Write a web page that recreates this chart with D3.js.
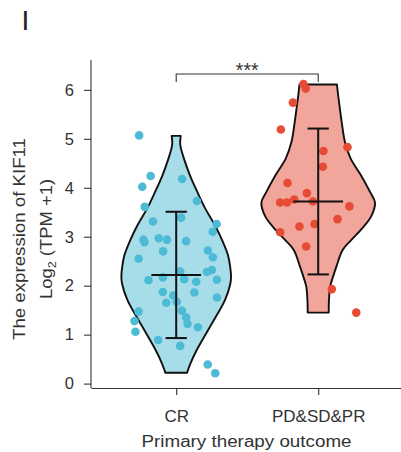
<!DOCTYPE html>
<html>
<head>
<meta charset="utf-8">
<script src="https://cdn.jsdelivr.net/npm/d3@7"></script>
<style>
  html, body { margin: 0; padding: 0; background: #fff; }
  svg { display: block; }
  text { font-family: "Liberation Sans", Arial, Helvetica, sans-serif; fill: #333; }
</style>
</head>
<body>
<svg id="chart" width="401" height="452"></svg>
<script>
// Groups on the x axis
const categories = ["CR", "PD&SD&PR"];

// KIF11 expression, log2(TPM + 1), per sample, with horizontal jitter (category units)
const crValues = [5.07, 4.24, 4.02, 4.18, 3.61, 3.73, 3.31, 3.39, 3.26, 3.10,
                  2.94, 2.89, 2.97, 2.94, 2.91, 2.70, 2.72, 2.58, 2.55, 2.11,
                  2.17, 2.29, 2.13, 2.08, 2.28, 2.32, 2.12, 1.87, 1.80, 1.65,
                  1.67, 1.86, 1.76, 1.47, 1.28, 1.06, 1.49, 1.35, 1.22, 1.15,
                  0.89, 0.77, 0.39, 0.21];
const crJitter = [-0.261, -0.180, -0.239, 0.042, -0.222, 0.146, -0.164, 0.035, 0.285, 0.257,
                  -0.230, -0.223, -0.123, -0.065, 0.070, -0.092, 0.223, 0.258, -0.264, -0.195,
                  -0.094, 0.028, 0.056, 0.141, 0.216, 0.251, 0.287, -0.094, -0.021, -0.070,
                  0.004, 0.128, 0.287, -0.265, -0.294, -0.287, 0.040, 0.070, 0.080, 0.153,
                  -0.127, 0.028, 0.222, 0.275];

const pdValues = [6.12, 6.03, 5.74, 5.19, 4.83, 4.75, 4.43, 4.10, 3.89, 3.70,
                  3.70, 3.76, 3.72, 3.62, 3.36, 3.21, 3.26, 3.09, 2.80, 1.93, 1.45];
const pdJitter = [-0.104, -0.088, -0.178, -0.263, 0.206, 0.037, 0.033, -0.216, -0.080, -0.268,
                  -0.220, -0.169, -0.037, 0.220, 0.136, -0.132, -0.026, -0.268, -0.085, 0.096, 0.268];

// Violin outlines: expression level and relative density (trimmed at the data range)
const crLevels  = [5.06, 4.95, 4.85, 4.60, 4.26, 3.92, 3.58, 3.24, 2.90, 2.63, 2.39, 2.20, 2.05, 1.71, 1.37, 1.03, 0.68, 0.41, 0.22];
const crDensity = [0.08, 0.07, 0.075, 0.135, 0.24, 0.37, 0.51, 0.68, 0.82, 0.91, 0.95, 0.965, 0.955, 0.86, 0.70, 0.53, 0.36, 0.25, 0.19];
const pdLevels  = [6.11, 5.90, 5.63, 5.29, 4.94, 4.60, 4.26, 3.92, 3.70, 3.41, 3.14, 2.93, 2.73, 2.39, 2.18, 1.98, 1.71, 1.45];
const pdDensity = [0.33, 0.35, 0.38, 0.42, 0.47, 0.57, 0.75, 0.91, 1.00, 0.93, 0.75, 0.58, 0.43, 0.32, 0.26, 0.21, 0.19, 0.185];

// Mean ± SD per group
const groupMean = [2.22, 3.72];
const groupSD   = [1.29, 1.49];

const yTicks = [0, 1, 2, 3, 4, 5, 6];
const sigLabel = "***";

const fillColors  = ["#a6dde9", "#f2a59a"];
const pointColors = ["#4DBBD5", "#E64B35"];

const svg = d3.select("#chart");

const x = d3.scaleLinear().domain([0.4, 2.6]).range([91, 403.4]);
const y = d3.scaleLinear().domain([-0.09, 6.61]).range([388, 60]);
const halfWidth = d3.scaleLinear().domain([0, 1]).range([0, 0.4]);

// Panel letter
svg.append("text").attr("x", 21.5).attr("y", 30)
  .style("font-size", "28px").style("fill", "#222").text("I");

// Axes
const yAxis = svg.append("g").attr("transform", "translate(91,0)")
  .call(d3.axisLeft(y).tickValues(yTicks).tickFormat(d3.format("d"))
        .tickSize(7).tickPadding(10).tickSizeOuter(0));
const xAxis = svg.append("g").attr("transform", "translate(0,388)")
  .call(d3.axisBottom(x).tickValues([1, 2]).tickFormat(i => categories[i - 1])
        .tickSize(7).tickPadding(15).tickSizeOuter(0));
[yAxis, xAxis].forEach(g => {
  g.select(".domain").attr("stroke", "#333").attr("stroke-width", 1.1);
  g.selectAll(".tick line").attr("stroke", "#333").attr("stroke-width", 1.1);
  g.selectAll(".tick text").style("fill", "#333").attr("font-family", null);
});
yAxis.selectAll(".tick text").style("font-size", "16.5px");
xAxis.selectAll(".tick text").style("font-size", "17px");
// y axis line spans the full panel height
yAxis.select(".domain").attr("d", `M0,${y(-0.09)}V${y(6.61)}`);

// Axis titles
svg.append("text")
  .attr("transform", "translate(246.5,446.5)")
  .attr("text-anchor", "middle")
  .attr("textLength", 210).attr("lengthAdjust", "spacingAndGlyphs")
  .style("font-size", "16px")
  .text("Primary therapy outcome");

svg.append("text")
  .attr("transform", "translate(25,239) rotate(-90)")
  .attr("text-anchor", "middle")
  .attr("textLength", 202).attr("lengthAdjust", "spacingAndGlyphs")
  .style("font-size", "16px")
  .text("The expression of KIF11");

const yl2 = svg.append("text")
  .attr("transform", "translate(51.5,239) rotate(-90)")
  .attr("text-anchor", "middle")
  .attr("textLength", 120).attr("lengthAdjust", "spacingAndGlyphs")
  .style("font-size", "16px");
yl2.append("tspan").text("Log");
yl2.append("tspan").attr("dy", 4).style("font-size", "11px").text("2");
yl2.append("tspan").attr("dy", -4).text(" (TPM +1)");

// Violins
const groups = [
  { levels: crLevels, density: crDensity, values: crValues, jitter: crJitter },
  { levels: pdLevels, density: pdDensity, values: pdValues, jitter: pdJitter }
];

groups.forEach((g, i) => {
  const c = i + 1;
  const outline = g.levels.map((lv, k) => ({ v: lv, d: g.density[k] }));
  const area = d3.area()
    .y(d => y(d.v))
    .x0(d => x(c - halfWidth(d.d)))
    .x1(d => x(c + halfWidth(d.d)))
    .curve(d3.curveCatmullRom.alpha(0.5));
  svg.append("path").datum(outline)
    .attr("d", area)
    .attr("fill", fillColors[i])
    .attr("stroke", "#111")
    .attr("stroke-width", 1.9)
    .attr("stroke-linejoin", "round");
});

// Jittered sample points
groups.forEach((g, i) => {
  const c = i + 1;
  svg.append("g").selectAll("circle")
    .data(g.values.map((v, k) => ({ v, j: g.jitter[k] })))
    .join("circle")
    .attr("cx", d => x(c + d.j))
    .attr("cy", d => y(d.v))
    .attr("r", 4.3)
    .attr("fill", pointColors[i]);
});

// Mean ± SD bars
groupMean.forEach((m, i) => {
  const c = i + 1;
  const lo = m - groupSD[i], hi = m + groupSD[i];
  const eg = svg.append("g").attr("stroke", "#111").attr("stroke-width", 2);
  eg.append("line").attr("x1", x(c)).attr("x2", x(c)).attr("y1", y(hi)).attr("y2", y(lo));
  eg.append("line").attr("x1", x(c - 0.075)).attr("x2", x(c + 0.075)).attr("y1", y(hi)).attr("y2", y(hi));
  eg.append("line").attr("x1", x(c - 0.075)).attr("x2", x(c + 0.075)).attr("y1", y(lo)).attr("y2", y(lo));
  eg.append("line").attr("x1", x(c - 0.175)).attr("x2", x(c + 0.175)).attr("y1", y(m)).attr("y2", y(m));
});

// Significance bracket
const bracketY = 74;
svg.append("path")
  .attr("d", `M${x(1)},${bracketY + 8}V${bracketY}H${x(2)}V${bracketY + 8}`)
  .attr("fill", "none").attr("stroke", "#333").attr("stroke-width", 1.1);
svg.append("text")
  .attr("x", (x(1) + x(2)) / 2).attr("y", bracketY + 3)
  .attr("text-anchor", "middle")
  .style("font-size", "19.5px")
  .text(sigLabel);
</script>
</body>
</html>
